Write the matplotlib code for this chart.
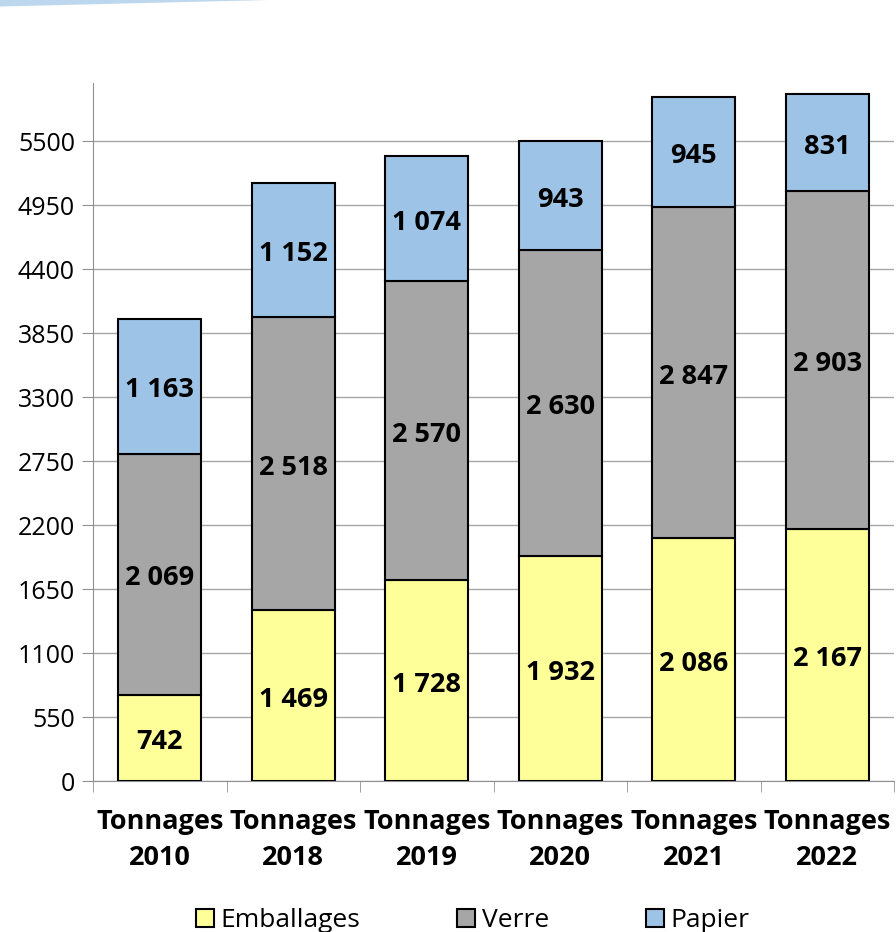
import matplotlib.pyplot as plt
import matplotlib.patches as mpatches
import numpy as np

plt.rcParams['font.family'] = ['Open Sans', 'DejaVu Sans']

categories = ["Tonnages\n2010", "Tonnages\n2018", "Tonnages\n2019",
              "Tonnages\n2020", "Tonnages\n2021", "Tonnages\n2022"]
emballages = [742, 1469, 1728, 1932, 2086, 2167]
verre = [2069, 2518, 2570, 2630, 2847, 2903]
papier = [1163, 1152, 1074, 943, 945, 831]
yticks = [0, 550, 1100, 1650, 2200, 2750, 3300, 3850, 4400, 4950, 5500]

series = [("Emballages", emballages, "#FFFF99"),
          ("Verre", verre, "#A6A6A6"),
          ("Papier", papier, "#9DC3E6")]

fig = plt.figure(figsize=(8.96, 9.32), dpi=100)
ax = fig.add_axes([0.1038, 0.162, 0.894, 0.749])

# decorative swoosh at top-left
fig.patches.append(mpatches.Polygon([[0, 1], [0.30, 1], [0.0, 0.993]],
                                    closed=True, transform=fig.transFigure,
                                    facecolor="#BDD7EE", edgecolor="none"))

x = np.arange(len(categories))
bottom = np.zeros(len(categories))
for name, vals, col in series:
    vals = np.array(vals)
    ax.bar(x, vals, 0.62, bottom=bottom, color=col, edgecolor="black",
           linewidth=1.5, label=name, zorder=3)
    for xi, b, v in zip(x, bottom, vals):
        ax.annotate(f"{v:,}".replace(",", " "), (xi, b + v / 2),
                    xytext=(0, -3), textcoords="offset points", ha="center",
                    va="center", fontsize=19.5, fontweight="bold", zorder=4)
    bottom += vals

ax.set_xlim(-0.5, len(categories) - 0.5)
ax.set_ylim(0, 6000)
ax.set_yticks(yticks)
ax.tick_params(axis="y", labelsize=18, length=8, color="#909090", pad=5)
ax.yaxis.grid(True, color="#A6A6A6", linewidth=1, zorder=0)

ax.set_xticks(x)
ax.set_xticklabels(categories, fontsize=19.5, fontweight="bold", linespacing=1.5)
ax.tick_params(axis="x", length=0, pad=20)
ax.set_xticks(np.arange(len(categories) + 1) - 0.5, minor=True)
ax.tick_params(axis="x", which="minor", length=8, color="#909090")

for s in ["top", "right"]:
    ax.spines[s].set_visible(False)
ax.spines["left"].set_color("#909090")
ax.spines["bottom"].set_color("#909090")

ax.legend(loc="upper center", bbox_to_anchor=(0.474, -0.148), ncol=3,
          frameon=False, fontsize=19, handlelength=0.7, handleheight=0.7,
          handletextpad=0.25, columnspacing=3.65)

fig.savefig("out.png", dpi=100)
